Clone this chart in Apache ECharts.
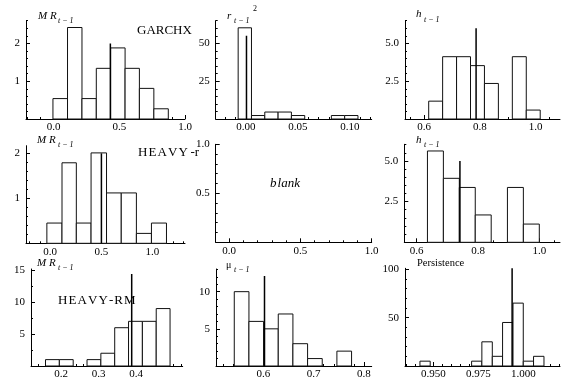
<!DOCTYPE html>
<html><head><meta charset="utf-8">
<script src="https://cdn.jsdelivr.net/npm/echarts@6/dist/echarts.min.js"></script>
<style>html,body{margin:0;padding:0;background:#fff}#c{width:562px;height:380px}</style>
</head><body><div id="c"></div>
<script>
// ---------------- data ----------------
// Panel 1: GARCHX, MR_{t-1}
const p1Edges   = [-0.005, 0.106, 0.216, 0.325, 0.434, 0.544, 0.653, 0.763, 0.873];
const p1Heights = [0.54, 2.42, 0.54, 1.34, 1.88, 1.34, 0.81, 0.27];
const p1Mean    = [0.432, 2.0];
const p1XTicks  = [0, 0.5, 1.0];
const p1YTicks  = [1, 2];
// Panel 2: GARCHX, r_{t-1}^2
const p2Edges   = [-0.0074, 0.0054, 0.0182, 0.031, 0.0438, 0.0566, 0.0694, 0.0822, 0.095, 0.1078];
const p2Heights = [60.3, 2.3, 4.6, 4.6, 2.3, 0, 0, 2.3, 2.3];
const p2Mean    = [0.0006, 55];
const p2XTicks  = [0, 0.05, 0.10];
const p2YTicks  = [25, 50];
// Panel 3: GARCHX, h_{t-1}
const p3Edges   = [0.616, 0.666, 0.716, 0.766, 0.816, 0.866, 0.916, 0.966, 1.016];
const p3Heights = [1.18, 4.12, 4.12, 3.53, 2.35, 0, 4.12, 0.59];
const p3Mean    = [0.786, 6.0];
const p3XTicks  = [0.6, 0.8, 1.0];
const p3YTicks  = [2.5, 5.0];
// Panel 4: HEAVY-r, MR_{t-1}
const p4Edges   = [-0.032, 0.116, 0.256, 0.400, 0.551, 0.695, 0.843, 0.990, 1.137];
const p4Heights = [0.45, 1.79, 0.45, 2.01, 1.12, 1.12, 0.22, 0.45];
const p4Mean    = [0.501, 2.0];
const p4XTicks  = [0, 0.5, 1.0];
const p4YTicks  = [1, 2];
// Panel 5: blank
const p5XTicks  = [0, 0.5, 1.0];
const p5YTicks  = [0.5, 1.0];
// Panel 6: HEAVY-r, h_{t-1}
const p6Edges   = [0.635, 0.687, 0.739, 0.791, 0.843, 0.896, 0.948, 1.0];
const p6Heights = [5.61, 3.93, 3.37, 1.68, 0, 3.37, 1.12];
const p6Mean    = [0.741, 5.0];
const p6XTicks  = [0.6, 0.8, 1.0];
const p6YTicks  = [2.5, 5.0];
// Panel 7: HEAVY-RM, MR_{t-1}
const p7Edges   = [0.1587, 0.1956, 0.2325, 0.2694, 0.3063, 0.3432, 0.3801, 0.417, 0.4539, 0.4908];
const p7Heights = [1, 1, 0, 1, 2, 6, 7, 7, 9];
const p7Mean    = [0.3885, 14.4];
const p7XTicks  = [0.2, 0.3, 0.4];
const p7YTicks  = [5, 10, 15];
// Panel 8: HEAVY-RM, mu_{t-1}
const p8Edges   = [0.5418, 0.571, 0.6002, 0.6294, 0.6586, 0.6878, 0.717, 0.7462, 0.7754];
const p8Heights = [10, 6, 5, 7, 3, 1, 0, 2];
const p8Mean    = [0.602, 12.1];
const p8XTicks  = [0.5, 0.6, 0.7, 0.8];
const p8YTicks  = [5, 10];
// Panel 9: HEAVY-RM, Persistence
const p9Edges   = [0.9426, 0.9483, 0.9541, 0.9598, 0.9656, 0.9713, 0.977, 0.9828, 0.9885, 0.9943, 1.0, 1.0057, 1.0115];
const p9Heights = [5, 0, 0, 0, 0, 5, 25, 10, 45, 65, 5, 10];
const p9Mean    = [0.9938, 101];
const p9XTicks  = [0.950, 0.975, 1.000];
const p9YTicks  = [50, 100];

// ---------------- layout ----------------
const panels = [
  {box:[26,20.7,185,119],    x:[-0.21,1.0],      y:[0,2.6],  xT:p1XTicks, xm:0.1,   xd:1, yT:p1YTicks, ym:0.2, yd:0, e:p1Edges, h:p1Heights, m:p1Mean},
  {box:[215.7,20.7,371.7,119],x:[-0.029,0.121],  y:[0,65],   xT:p2XTicks, xm:0.01,  xd:2, yT:p2YTicks, ym:5,   yd:0, e:p2Edges, h:p2Heights, m:p2Mean},
  {box:[405,20.7,560,119],   x:[0.531,1.087],    y:[0,6.5],  xT:p3XTicks, xm:0.05,  xd:1, yT:p3YTicks, ym:0.5, yd:1, e:p3Edges, h:p3Heights, m:p3Mean},
  {box:[26,145.7,185,243.3], x:[-0.236,1.318],   y:[0,2.17], xT:p4XTicks, xm:0.1,   xd:1, yT:p4YTicks, ym:0.2, yd:0, e:p4Edges, h:p4Heights, m:p4Mean},
  {box:[215.7,144.3,371.7,242.3],x:[-0.095,1.0], y:[0,1.0],  xT:p5XTicks, xm:0.1,   xd:1, yT:p5YTicks, ym:0.1, yd:1, e:null, h:null, m:null},
  {box:[404.3,144.3,560,242.3],x:[0.5595,1.0675],y:[0,6.02], xT:p6XTicks, xm:0.05,  xd:1, yT:p6YTicks, ym:0.5, yd:1, e:p6Edges, h:p6Heights, m:p6Mean},
  {box:[31,269,182.7,366],   x:[0.12,0.5245],    y:[0,15.2], xT:p7XTicks, xm:0.02,  xd:1, yT:p7YTicks, ym:2.5, yd:0, e:p7Edges, h:p7Heights, m:p7Mean},
  {box:[216,269,371.7,366],  x:[0.5054,0.8155],  y:[0,13.05],xT:p8XTicks, xm:0.02,  xd:1, yT:p8YTicks, ym:1,   yd:0, e:p8Edges, h:p8Heights, m:p8Mean},
  {box:[405,268.3,560,366],  x:[0.9343,1.0204],  y:[0,101],  xT:p9XTicks, xm:0.005, xd:3, yT:p9YTicks, ym:10,  yd:0, e:p9Edges, h:p9Heights, m:p9Mean}
];

function minors(lo, hi, step, majors) {
  const out = [];
  const s = Math.ceil(lo / step - 1e-9);
  for (let k = s; k * step <= hi + 1e-9; k++) {
    const v = +(k * step).toFixed(6);
    if (v <= lo + 1e-9) continue;
    if (majors.some(mj => Math.abs(mj - v) < 1e-9)) continue;
    out.push(v);
  }
  return out;
}

const FONT = 'Liberation Serif';
const black = '#000';
const grid = [], xAxis = [], yAxis = [], series = [];

panels.forEach((p, i) => {
  const [l, t, r, b] = p.box;
  grid.push({left: l, top: t, width: r - l, height: b - t, containLabel: false, outerBoundsMode: 'none'});
  const xa = 2 * i, ya = 2 * i;
  xAxis.push({type:'value', gridIndex:i, min:p.x[0], max:p.x[1], position:'bottom',
    axisLine:{show:true, onZero:false, lineStyle:{color:black, width:1}},
    axisTick:{show:true, inside:true, length:4, customValues:p.xT, lineStyle:{color:black, width:1}},
    axisLabel:{show:true, customValues:p.xT, showMinLabel:true, showMaxLabel:true, margin:3,
      formatter:v => Number(v).toFixed(p.xd), fontFamily:FONT, fontSize:11, color:black},
    splitLine:{show:false}});
  xAxis.push({type:'value', gridIndex:i, min:p.x[0], max:p.x[1], position:'bottom',
    axisLine:{show:false, onZero:false},
    axisTick:{show:true, inside:true, length:2, customValues:minors(p.x[0], p.x[1], p.xm, p.xT), lineStyle:{color:black, width:1}},
    axisLabel:{show:false}, splitLine:{show:false}});
  yAxis.push({type:'value', gridIndex:i, min:p.y[0], max:p.y[1], position:'left',
    axisLine:{show:true, onZero:false, lineStyle:{color:black, width:1}},
    axisTick:{show:true, inside:true, length:4, customValues:p.yT, lineStyle:{color:black, width:1}},
    axisLabel:{show:true, customValues:p.yT, showMinLabel:true, showMaxLabel:true, margin:6,
      formatter:v => Number(v).toFixed(p.yd), fontFamily:FONT, fontSize:11, color:black},
    splitLine:{show:false}});
  yAxis.push({type:'value', gridIndex:i, min:p.y[0], max:p.y[1], position:'left',
    axisLine:{show:false, onZero:false},
    axisTick:{show:true, inside:true, length:2, customValues:minors(p.y[0], p.y[1], p.ym, p.yT), lineStyle:{color:black, width:1}},
    axisLabel:{show:false}, splitLine:{show:false}});

  if (p.e) {
    const bars = [];
    for (let k = 0; k < p.h.length; k++) {
      if (p.h[k] > 0) bars.push([p.e[k], p.e[k + 1], p.h[k]]);
    }
    series.push({type:'custom', xAxisIndex:xa, yAxisIndex:ya, data:bars, encode:{x:[0,1], y:2},
      silent:true, animation:false, clip:false, z:2,
      renderItem:(params, api) => {
        const a = api.coord([api.value(0), api.value(2)]);
        const c = api.coord([api.value(1), 0]);
        return {type:'rect', shape:{x:a[0], y:a[1], width:c[0]-a[0], height:c[1]-a[1]},
          style:{fill:'#fff', stroke:'#111', lineWidth:1}};
      }});
    series.push({type:'line', xAxisIndex:xa, yAxisIndex:ya, data:[[p.m[0], 0], [p.m[0], p.m[1]]],
      symbol:'none', silent:true, animation:false, z:3, lineStyle:{color:black, width:1.5}});
  }
});

function txt(text, x, y, size, fontStyle) {
  return {type:'text', x:x, y:y, silent:true, z:10,
    style:{text:text, fontSize:size, fontFamily:FONT, fontStyle:fontStyle || 'normal', fill:black,
      align:'left', textAlign:'left', verticalAlign:'middle', textVerticalAlign:'middle'}};
}
const hs = '\u200A';
const graphic = [
  txt('M R', 38, 16, 11, 'italic'), txt('t − 1', 58, 20.5, 8, 'italic'),
  txt('GARCHX', 137, 31, 13),
  txt('r', 227, 16, 11, 'italic'), txt('t − 1', 234, 20.5, 8, 'italic'), txt('2', 253, 9, 8),
  txt('h', 416, 14.5, 11, 'italic'), txt('t − 1', 424, 20, 8, 'italic'),
  txt('M R', 37, 140, 11, 'italic'), txt('t − 1', 58, 144.5, 8, 'italic'),
  txt(['H','E','A','V','Y'].join(hs) + '\u2009-r', 138, 153, 13),
  txt('b' + hs + 'lank', 270, 184, 13, 'italic'),
  txt('h', 416, 140, 11, 'italic'), txt('t − 1', 424, 145, 8, 'italic'),
  txt('M R', 37, 263, 11, 'italic'), txt('t − 1', 58, 267.5, 8, 'italic'),
  txt(['H','E','A','V','Y','-','R','M'].join(hs), 58, 301, 13),
  txt('μ', 226, 265.5, 10), txt('t − 1', 234, 270, 8, 'italic'),
  txt('Persistence', 417, 263, 10.5)
];

const chart = echarts.init(document.getElementById('c'), null, {renderer:'canvas'});
chart.setOption({animation:false, backgroundColor:'#fff', grid, xAxis, yAxis, series, graphic});
</script></body></html>
